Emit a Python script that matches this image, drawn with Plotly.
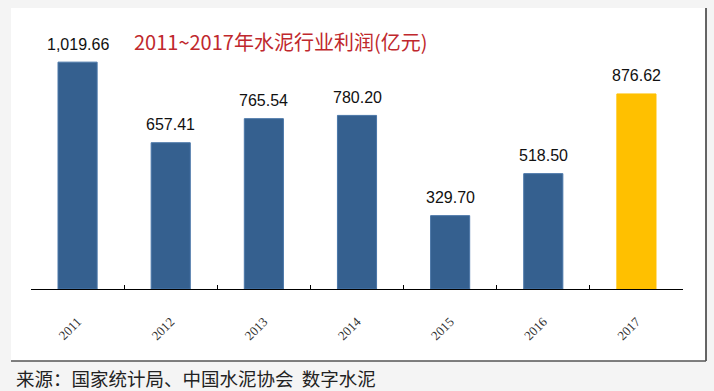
import plotly.graph_objects as go

years = ["2011", "2012", "2013", "2014", "2015", "2016", "2017"]
profits = [1019.66, 657.41, 765.54, 780.20, 329.70, 518.50, 876.62]
bar_colors = ["#35608f"] * 6 + ["#ffc000"]
edge_colors = ["#4a76a8"] * 6 + ["#ffc000"]
title_text = "2011~2017年水泥行业利润(亿元)"
source_text = "来源：国家统计局、中国水泥协会\u00a0\u00a0数字水泥"

W, H = 714, 391
fig = go.Figure(go.Bar(
    x=years, y=profits,
    marker=dict(color=bar_colors, line=dict(color=edge_colors, width=1)),
    cliponaxis=False, width=0.42, hoverinfo="x+y",
))

value_labels = [
    dict(text=f"{v:,.2f}", x=i, y=v, xref="x", yref="y",
         xanchor="center", yanchor="middle", yshift=18, showarrow=False,
         font=dict(family="Liberation Sans, Arial", size=16, color="#111111"))
    for i, v in enumerate(profits)
]

fig.update_layout(
    width=W, height=H,
    paper_bgcolor="#f4f4f4", plot_bgcolor="rgba(0,0,0,0)",
    margin=dict(l=31, r=31, t=22, b=102),
    showlegend=False,
    xaxis=dict(
        type="category", categoryorder="array", categoryarray=years,
        range=[-0.5, len(years) - 0.5],
        showline=True, linecolor="#000000", linewidth=1,
        ticks="inside", ticklen=4, tickcolor="#000000", tickson="boundaries",
        tickangle=-45, ticklabelstandoff=19,
        tickfont=dict(family="Liberation Serif, serif", size=13, color="#333333"),
        showgrid=False, zeroline=False,
    ),
    yaxis=dict(range=[0, 1200], visible=False, showgrid=False, zeroline=False),
    shapes=[
        dict(type="rect", xref="paper", yref="paper",
             x0=-20/652, x1=(706-31)/652, y0=-(361-289)/267, y1=(289-8)/267,
             fillcolor="#ffffff", line=dict(width=0), layer="below"),
        dict(type="line", xref="paper", yref="paper",
             x0=(706-31)/652, x1=(706-31)/652, y0=-(361-289)/267, y1=(289-8)/267,
             line=dict(color="#333333", width=1.5)),
        dict(type="line", xref="paper", yref="paper",
             x0=-20/652, x1=(706-31)/652, y0=-(361-289)/267, y1=-(361-289)/267,
             line=dict(color="#555555", width=1.5)),
    ],
    annotations=value_labels + [
        dict(text=title_text, xref="paper", yref="paper",
             x=(280-31)/652, y=(289-42)/267, xanchor="center", yanchor="middle",
             showarrow=False,
             font=dict(family="Noto Sans CJK SC", size=20, color="#c0282d")),
        dict(text=source_text, xref="paper", yref="paper",
             x=(14-31)/652, y=-(378-289)/267, xanchor="left", yanchor="middle",
             showarrow=False,
             font=dict(family="Noto Sans CJK SC", size=18.5, color="#222222")),
    ],
)

fig.write_html("out.html", config={"displayModeBar": False},
               post_script="document.body.style.margin='0';")
